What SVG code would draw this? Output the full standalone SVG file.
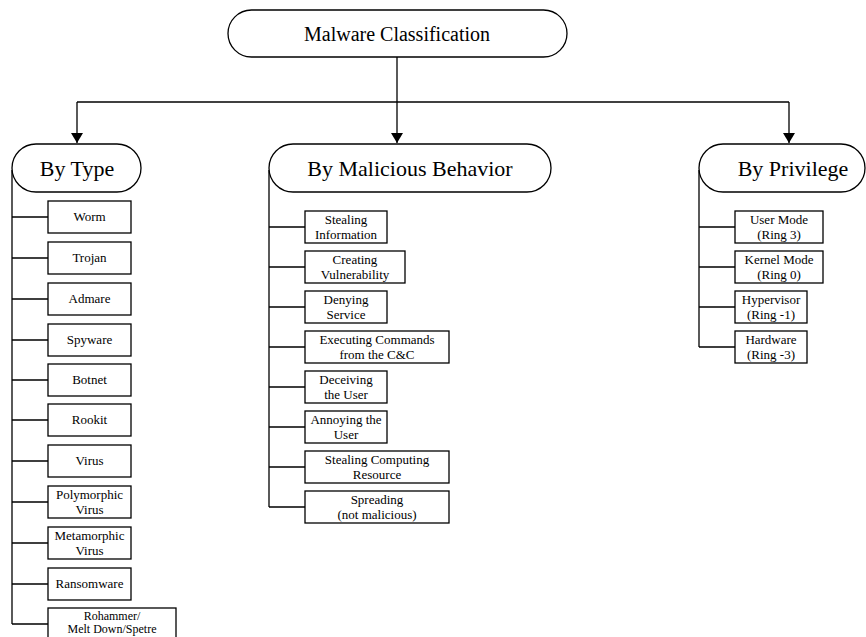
<svg xmlns="http://www.w3.org/2000/svg" width="866" height="637" viewBox="0 0 866 637" font-family="'Liberation Serif', 'Times New Roman', serif">
<defs>
<marker id="arr" viewBox="0 0 10 12" refX="10" refY="6" markerWidth="10" markerHeight="12" markerUnits="userSpaceOnUse" orient="auto">
<path d="M0,0 L10,6 L0,12 Z" fill="#000"/>
</marker>
<style>
.n{fill:#fff;stroke:#000;stroke-width:1.3}
.b{fill:#fff;stroke:#000;stroke-width:1.3}
.c{fill:none;stroke:#000;stroke-width:1.3}
text{font-family:'Liberation Serif','Times New Roman',serif;fill:#000;text-anchor:middle}
.h{font-size:22px}
.t{font-size:20px}
.s{font-size:13px}
.r{font-size:12px}
</style>
</defs>
<rect width="866" height="637" fill="#fff"/>
<g id="connectors">
<path class="c" d="M397,57 V143" marker-end="url(#arr)"/>
<path class="c" d="M77,102 H789"/>
<path class="c" d="M77,102 V143" marker-end="url(#arr)"/>
<path class="c" d="M789,102 V143" marker-end="url(#arr)"/>
<path class="c" d="M12,170 V624"/>
<path class="c" d="M12,217 H48 M12,258 H48 M12,299 H48 M12,340 H48 M12,380 H48 M12,420 H48 M12,461 H48 M12,502 H48 M12,543 H48 M12,584 H48 M12,624 H48"/>
<path class="c" d="M269,170 V507"/>
<path class="c" d="M269,227 H305 M269,267 H305 M269,307 H305 M269,347 H305 M269,387 H305 M269,427 H305 M269,467 H305 M269,507 H305"/>
<path class="c" d="M699,170 V347"/>
<path class="c" d="M699,227 H735 M699,267 H735 M699,307 H735 M699,347 H735"/>
</g>
<g id="root"><rect class="n" x="228" y="10" width="339" height="47" rx="23.5"/><text class="t" x="397" y="41">Malware Classification</text></g>
<g id="by-type"><rect class="n" x="12" y="144" width="129" height="48" rx="24"/><text class="h" x="77" y="176">By Type</text></g>
<g id="by-behavior"><rect class="n" x="269" y="144" width="282" height="48" rx="24"/><text class="h" x="410" y="176">By Malicious Behavior</text></g>
<g id="by-privilege"><rect class="n" x="699" y="144" width="166" height="48" rx="24"/><text class="h" x="793" y="176">By Privilege</text></g>

<g id="worm"><rect class="b" x="48" y="201" width="83" height="32"/><text class="s" x="89.5" y="221">Worm</text></g>
<g id="trojan"><rect class="b" x="48" y="242" width="83" height="32"/><text class="s" x="89.5" y="262">Trojan</text></g>
<g id="admare"><rect class="b" x="48" y="283" width="83" height="32"/><text class="s" x="89.5" y="303">Admare</text></g>
<g id="spyware"><rect class="b" x="48" y="324" width="83" height="32"/><text class="s" x="89.5" y="344">Spyware</text></g>
<g id="botnet"><rect class="b" x="48" y="364" width="83" height="32"/><text class="s" x="89.5" y="384">Botnet</text></g>
<g id="rookit"><rect class="b" x="48" y="404" width="83" height="32"/><text class="s" x="89.5" y="424">Rookit</text></g>
<g id="virus"><rect class="b" x="48" y="445" width="83" height="32"/><text class="s" x="89.5" y="465">Virus</text></g>
<g id="polymorphic"><rect class="b" x="48" y="486" width="83" height="32"/><text class="s" x="89.5" y="499">Polymorphic</text><text class="s" x="89.5" y="514">Virus</text></g>
<g id="metamorphic"><rect class="b" x="48" y="527" width="83" height="32"/><text class="s" x="89.5" y="540">Metamorphic</text><text class="s" x="89.5" y="555">Virus</text></g>
<g id="ransomware"><rect class="b" x="48" y="568" width="83" height="32"/><text class="s" x="89.5" y="588">Ransomware</text></g>
<g id="rohammer"><rect class="b" x="48" y="608" width="128" height="34"/><text class="r" x="112" y="620">Rohammer/</text><text class="r" x="112" y="633">Melt Down/Spetre</text></g>

<g id="stealing-info"><rect class="b" x="305" y="211" width="82" height="32"/><text class="s" x="346" y="224">Stealing</text><text class="s" x="346" y="239">Information</text></g>
<g id="creating-vuln"><rect class="b" x="305" y="251" width="100" height="32"/><text class="s" x="355" y="264">Creating</text><text class="s" x="355" y="279">Vulnerability</text></g>
<g id="denying"><rect class="b" x="305" y="291" width="82" height="32"/><text class="s" x="346" y="304">Denying</text><text class="s" x="346" y="319">Service</text></g>
<g id="executing"><rect class="b" x="305" y="331" width="144" height="32"/><text class="s" x="377" y="344">Executing Commands</text><text class="s" x="377" y="359">from the C&amp;C</text></g>
<g id="deceiving"><rect class="b" x="305" y="371" width="82" height="32"/><text class="s" x="346" y="384">Deceiving</text><text class="s" x="346" y="399">the User</text></g>
<g id="annoying"><rect class="b" x="305" y="411" width="82" height="32"/><text class="s" x="346" y="424">Annoying the</text><text class="s" x="346" y="439">User</text></g>
<g id="stealing-comp"><rect class="b" x="305" y="451" width="144" height="32"/><text class="s" x="377" y="464">Stealing Computing</text><text class="s" x="377" y="479">Resource</text></g>
<g id="spreading"><rect class="b" x="305" y="491" width="144" height="32"/><text class="s" x="377" y="504">Spreading</text><text class="s" x="377" y="519">(not malicious)</text></g>

<g id="user-mode"><rect class="b" x="735" y="211" width="88" height="32"/><text class="s" x="779" y="224">User Mode</text><text class="s" x="779" y="239">(Ring 3)</text></g>
<g id="kernel-mode"><rect class="b" x="735" y="251" width="88" height="32"/><text class="s" x="779" y="264">Kernel Mode</text><text class="s" x="779" y="279">(Ring 0)</text></g>
<g id="hypervisor"><rect class="b" x="735" y="291" width="72" height="32"/><text class="s" x="771" y="304">Hypervisor</text><text class="s" x="771" y="319">(Ring -1)</text></g>
<g id="hardware"><rect class="b" x="735" y="331" width="72" height="32"/><text class="s" x="771" y="344">Hardware</text><text class="s" x="771" y="359">(Ring -3)</text></g>
</svg>
